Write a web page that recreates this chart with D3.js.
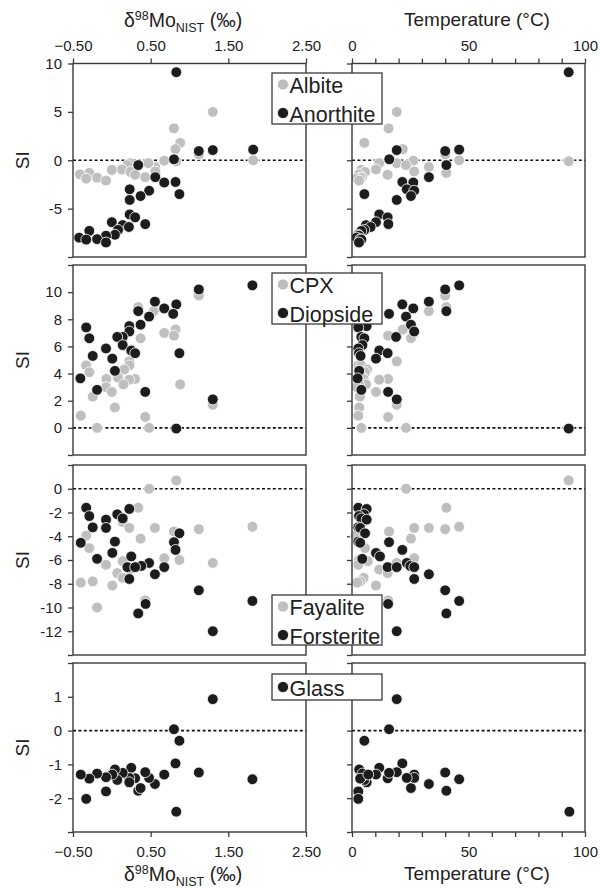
<!DOCTYPE html>
<html>
<head>
<meta charset="utf-8">
<script src="https://cdn.jsdelivr.net/npm/d3@7"></script>
<style>
  body { margin: 0; background: #fff; }
  text { font-family: "Liberation Sans", Arial, sans-serif; fill: #222; }
</style>
</head>
<body>
<svg id="chart" width="600" height="888"></svg>
<script>
// Each sample: [δ98Mo NIST (‰), temperature (°C), saturation index SI]
const albite = [
  [0.83, 93, -0.1], [1.82, 46, 0.0], [1.30, 19.2, 5.0], [0.80, 15.7, 3.3],
  [1.12, 40, 0.6], [0.88, 5.3, 1.8], [0.82, 21.8, 1.15], [0.675, 26.3, -0.05],
  [0.56, 33, -0.7], [0.47, 19.2, -0.3], [0.23, 11.7, -0.3], [0.20, 23.2, -0.5],
  [0.13, 10.3, -0.95], [0.0, 4, -1.0], [0.56, 26.7, -1.15], [0.24, 5.6, -1.2],
  [-0.29, 40.5, -1.3], [-0.41, 3, -1.45], [0.30, 15.3, -1.5], [0.43, 4.3, -1.75],
  [-0.19, 3.5, -1.8], [-0.33, 2, -1.9], [-0.075, 3, -2.1]
];
const anorthite = [
  [0.83, 93, 9.1], [1.82, 46, 1.1], [1.30, 19.2, 1.05], [1.12, 40, 0.95],
  [0.80, 16, 0.1], [0.34, 40.5, -0.5], [0.56, 33, -1.75], [0.82, 21.6, -2.25],
  [0.675, 26.3, -2.3], [0.23, 23.5, -3.0], [0.48, 26.7, -3.15], [0.87, 5.3, -3.5],
  [0.37, 25.3, -3.7], [0.23, 19.2, -4.1], [0.23, 11.7, -5.6], [0.30, 15.3, -5.9],
  [0.00, 10.3, -6.4], [0.43, 15.6, -6.6], [0.14, 6, -6.7], [0.22, 8, -6.9],
  [0.08, 5.3, -7.2], [-0.29, 4, -7.3], [0.04, 2.7, -7.7], [-0.075, 3, -7.8],
  [-0.42, 2, -8.0], [-0.19, 3.5, -8.15], [-0.33, 4, -8.2], [-0.075, 3, -8.5]
];
const cpx = [
  [1.12, 40, 9.75], [0.34, 40.5, 8.9], [0.54, 33, 8.6], [0.82, 21.8, 7.25],
  [0.675, 26.7, 7.0], [0.80, 15.5, 6.8], [0.37, 25.3, 6.6], [0.225, 19.2, 4.9],
  [0.225, 2.7, 4.6], [-0.33, 4, 4.6], [0.16, 6.5, 4.3], [-0.29, 5.6, 4.1],
  [0.08, 4.5, 3.7], [0.30, 15.5, 3.6], [0.225, 11.7, 3.55], [-0.07, 5, 3.6],
  [0.15, 6, 3.2], [0.88, 3, 3.2], [-0.075, 2, 3.0], [0.0, 10.3, 2.65],
  [-0.246, 3.4, 2.3], [1.30, 19.2, 1.7], [0.04, 3.1, 1.5], [-0.40, 2.7, 0.9],
  [0.43, 15.5, 0.8], [0.48, 23.2, 0.0], [-0.19, 4, 0.0]
];
const diopside = [
  [1.81, 46, 10.5], [1.12, 40, 10.2], [0.555, 33, 9.3], [0.83, 21.6, 9.1],
  [0.675, 26.3, 8.8], [0.34, 40.5, 8.6], [0.79, 15.9, 8.4], [0.48, 23.2, 8.2],
  [0.37, 25.3, 7.6], [0.225, 6.3, 7.5], [-0.33, 2.7, 7.4], [0.225, 26.7, 7.1],
  [0.14, 18.9, 6.7], [0.07, 4, 6.7], [-0.29, 5.3, 6.6], [0.14, 4.5, 6.1],
  [-0.075, 2.7, 5.85], [0.25, 11.7, 5.7], [0.87, 15.3, 5.5], [0.30, 3, 5.5],
  [-0.246, 3.7, 5.3], [0.006, 10.3, 5.1], [0.04, 3.1, 4.2], [-0.405, 2.4, 3.65],
  [-0.19, 4.0, 2.8], [0.43, 15.5, 2.65], [1.30, 19.2, 2.1], [0.83, 93, -0.05]
];
const fayalite = [
  [0.83, 93, 0.7], [0.48, 23.2, 0.0], [0.34, 40.5, -1.6], [0.14, 4.5, -2.8],
  [1.81, 46, -3.2], [0.555, 33, -3.3], [0.225, 26.7, -3.3], [1.12, 40, -3.4],
  [0.80, 15.9, -3.6], [-0.33, 1.5, -3.95], [0.37, 25.3, -4.2], [-0.29, 5.6, -5.0],
  [0.675, 26.7, -5.85], [0.87, 3, -6.0], [0.14, 6.8, -6.1], [1.30, 19.2, -6.25],
  [-0.075, 2.7, -6.4], [0.23, 11.7, -6.8], [0.07, 15.3, -7.1], [0.14, 5, -7.5],
  [-0.246, 3.5, -7.8], [-0.40, 2.3, -7.9], [0.006, 10.3, -8.15], [0.43, 15.5, -9.4],
  [-0.19, 3.9, -10.0]
];
const forsterite = [
  [-0.33, 2.7, -1.6], [0.225, 6.3, -1.7], [0.07, 5.1, -2.15], [-0.29, 3, -2.3],
  [0.14, 4, -2.5], [-0.075, 6.3, -2.6], [-0.246, 2.7, -3.25], [-0.075, 3.5, -3.3],
  [0.87, 5.6, -3.75], [0.04, 2.7, -4.45], [-0.40, 3.5, -4.55], [0.80, 15.9, -4.5],
  [0.82, 21.6, -5.15], [0.006, 10.3, -5.4], [0.25, 12, -5.7], [-0.19, 4.4, -5.9],
  [0.48, 23.5, -6.25], [0.38, 25, -6.5], [0.20, 15.3, -6.6], [0.30, 19.2, -6.6],
  [0.675, 26.7, -6.6], [0.555, 33, -7.2], [0.225, 26.7, -7.6], [1.12, 40, -8.55],
  [1.81, 46, -9.45], [0.435, 15.5, -9.7], [0.34, 40.5, -10.5], [1.30, 19.2, -12.0]
];
const glass = [
  [1.30, 19.2, 0.93], [0.80, 15.9, 0.04], [0.87, 5.3, -0.3], [0.82, 21.6, -0.97],
  [0.83, 93.3, -2.4], [1.12, 40, -1.24], [1.81, 46, -1.44], [0.34, 40.5, -1.78],
  [0.555, 33, -1.58], [0.675, 26.7, -1.3], [0.37, 25.3, -1.7], [0.48, 26.7, -1.4],
  [0.43, 19.2, -1.23], [0.30, 15.3, -1.41], [0.25, 11.7, -1.1], [0.225, 23.5, -1.4],
  [0.225, 6.3, -1.53], [0.14, 15.9, -1.25], [0.07, 5.3, -1.46], [0.04, 3.1, -1.15],
  [0.006, 10.3, -1.3], [-0.075, 4, -1.38], [-0.075, 2.7, -1.8], [-0.19, 4.5, -1.27],
  [-0.29, 3.5, -1.42], [-0.33, 2.7, -2.02], [-0.40, 7, -1.3]
];

// Axis ticks and the subset of ticks that carry labels
const moTicks = [-0.5, 0.5, 1.5, 2.5];
const tempTicks = [0, 10, 20, 30, 40, 50, 60, 70, 80, 90, 100];
const tempLabels = [0, 50, 100];
const siTicks1 = [-10, -5, 0, 5, 10],            siLabels1 = [-5, 0, 5, 10];
const siTicks2 = [-2, 0, 2, 4, 6, 8, 10, 12],    siLabels2 = [0, 2, 4, 6, 8, 10];
const siTicks3 = [-14, -12, -10, -8, -6, -4, -2, 0, 2], siLabels3 = [-12, -10, -8, -6, -4, -2, 0];
const siTicks4 = [-3, -2, -1, 0, 1, 2],          siLabels4 = [-2, -1, 0, 1];

const GRAY = "#bfbfbf", BLACK = "#1c1c1c", AXIS = "#3a3a3a";

const rows = [
  { top: 63.5, bottom: 257, domain: [-10, 10], ticks: siTicks1, labels: siLabels1,
    series: [{ name: "Albite", data: albite, color: GRAY }, { name: "Anorthite", data: anorthite, color: BLACK }],
    legend: { top: 73, height: 51 } },
  { top: 265, bottom: 455, domain: [-2, 12], ticks: siTicks2, labels: siLabels2,
    series: [{ name: "CPX", data: cpx, color: GRAY }, { name: "Diopside", data: diopside, color: BLACK }],
    legend: { top: 273, height: 51 } },
  { top: 465, bottom: 655, domain: [-14, 2], ticks: siTicks3, labels: siLabels3,
    series: [{ name: "Fayalite", data: fayalite, color: GRAY }, { name: "Forsterite", data: forsterite, color: BLACK }],
    legend: { top: 595, height: 50 } },
  { top: 663, bottom: 832, domain: [-3, 2], ticks: siTicks4, labels: siLabels4,
    series: [{ name: "Glass", data: glass, color: BLACK }],
    legend: { top: 674, height: 26 } }
];

const cols = [
  { left: 73, right: 306, domain: [-0.5, 2.5], ticks: moTicks, fmt: d3.format(".2f"), key: 0 },
  { left: 352, right: 585, domain: [0, 100], ticks: tempTicks,
    fmt: d => tempLabels.includes(d) ? String(d) : "", key: 1 }
];

const svg = d3.select("#chart");

rows.forEach((row, ri) => {
  const y = d3.scaleLinear().domain(row.domain).range([row.bottom, row.top]);

  cols.forEach((col, ci) => {
    const x = d3.scaleLinear().domain(col.domain).range([col.left, col.right]);
    const g = svg.append("g");

    // y axis ticks (labels only on the left column)
    const yAxis = d3.axisLeft(y).tickValues(row.ticks).tickSize(5).tickPadding(6)
      .tickFormat(d => (ci === 0 && row.labels.includes(d)) ? String(d) : "");
    const ya = g.append("g").attr("transform", `translate(${col.left},0)`).call(yAxis);
    ya.select(".domain").remove();
    ya.selectAll("line").attr("stroke", AXIS).attr("stroke-width", 1.3);
    ya.selectAll("text").attr("font-size", 15).attr("fill", "#222")
      .style("font-family", '"Liberation Sans", Arial, sans-serif');

    // top x axis on the first row, bottom x axis on the last row
    if (ri === 0) {
      const xa = g.append("g").attr("transform", `translate(0,${row.top})`)
        .call(d3.axisTop(x).tickValues(col.ticks).tickSize(5).tickPadding(8).tickFormat(col.fmt));
      xa.select(".domain").remove();
      xa.selectAll("line").attr("stroke", AXIS).attr("stroke-width", 1.3);
      xa.selectAll("text").attr("font-size", 15).attr("fill", "#222")
        .style("font-family", '"Liberation Sans", Arial, sans-serif');
    }
    if (ri === rows.length - 1) {
      const xa = g.append("g").attr("transform", `translate(0,${row.bottom})`)
        .call(d3.axisBottom(x).tickValues(col.ticks).tickSize(5).tickPadding(9).tickFormat(col.fmt));
      xa.select(".domain").remove();
      xa.selectAll("line").attr("stroke", AXIS).attr("stroke-width", 1.3);
      xa.selectAll("text").attr("font-size", 15).attr("fill", "#222")
        .style("font-family", '"Liberation Sans", Arial, sans-serif');
    }

    // zero reference line
    g.append("line")
      .attr("x1", col.left).attr("x2", col.right)
      .attr("y1", y(0)).attr("y2", y(0))
      .attr("stroke", "#111").attr("stroke-width", 1.6)
      .attr("stroke-dasharray", "3,2.4");

    // points: gray series underneath, black on top
    row.series.forEach(s => {
      g.append("g").selectAll("circle").data(s.data).join("circle")
        .attr("cx", d => x(d[col.key]))
        .attr("cy", d => y(d[2]))
        .attr("r", 5.4)
        .attr("fill", s.color)
        .attr("stroke", "#fff").attr("stroke-width", 0.8);
    });

    // panel frame
    g.append("rect")
      .attr("x", col.left).attr("y", row.top)
      .attr("width", col.right - col.left).attr("height", row.bottom - row.top)
      .attr("fill", "none").attr("stroke", AXIS).attr("stroke-width", 1.4);
  });

  // y axis title
  svg.append("text")
    .attr("transform", `translate(29,${(row.top + row.bottom) / 2}) rotate(-90)`)
    .attr("text-anchor", "middle")
    .attr("font-size", 19)
    .text("SI");

  // legend box straddling the two columns
  const lg = svg.append("g");
  lg.append("rect")
    .attr("x", 272).attr("y", row.legend.top)
    .attr("width", 110).attr("height", row.legend.height)
    .attr("fill", "#fff").attr("stroke", AXIS).attr("stroke-width", 1.3);
  const step = row.series.length > 1 ? 28.5 : 0;
  const first = row.series.length > 1 ? row.legend.top + 11.5 : row.legend.top + row.legend.height / 2;
  row.series.forEach((s, i) => {
    const cy = first + i * step;
    lg.append("circle").attr("cx", 283).attr("cy", cy).attr("r", 5.6)
      .attr("fill", s.color).attr("stroke", "#fff").attr("stroke-width", 0.8);
    lg.append("text").attr("x", 289.5).attr("y", cy + 8.5)
      .attr("font-size", 21.5).text(s.name);
  });
});

// x axis titles
function moTitle(x, yBase) {
  const t = svg.append("text").attr("x", x).attr("y", yBase)
    .attr("text-anchor", "middle").attr("font-size", 19.5);
  t.append("tspan").text("δ");
  t.append("tspan").attr("font-size", 12.5).attr("dy", -7).text("98");
  t.append("tspan").attr("dy", 7).text("Mo");
  t.append("tspan").attr("font-size", 12.5).attr("dy", 5).text("NIST");
  t.append("tspan").attr("dy", -5).text(" (‰)");
}
moTitle(183, 27);
moTitle(183, 881);

svg.append("text").attr("x", 477).attr("y", 26)
  .attr("text-anchor", "middle").attr("font-size", 19).text("Temperature (°C)");
svg.append("text").attr("x", 477).attr("y", 880)
  .attr("text-anchor", "middle").attr("font-size", 19).text("Temperature (°C)");
</script>
</body>
</html>
